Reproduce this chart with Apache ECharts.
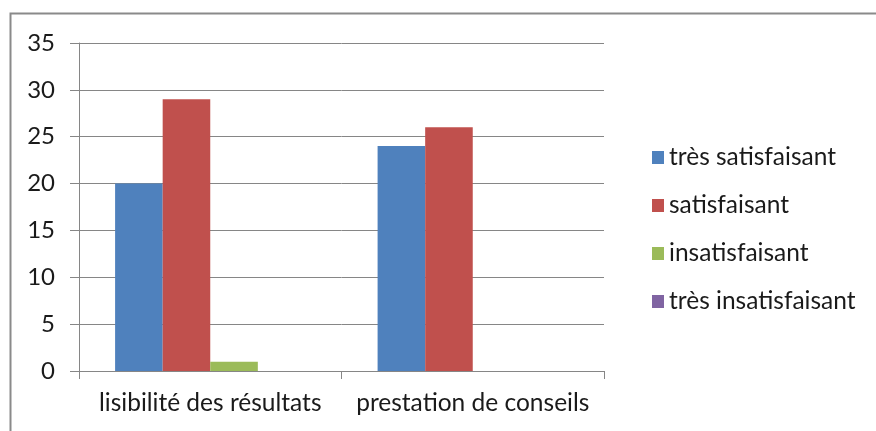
<!DOCTYPE html>
<html>
<head>
<meta charset="utf-8">
<script src="https://cdn.jsdelivr.net/npm/echarts@6/dist/echarts.min.js"></script>
<style>
html,body{margin:0;padding:0;background:#fff;}
#c{width:876px;height:431px;}
</style>
</head>
<body>
<div id="c"></div>
<script>
const categories = ["lisibilité des résultats", "prestation de conseils"];
const seriesNames = ["très satisfaisant", "satisfaisant", "insatisfaisant", "très insatisfaisant"];
const tresSatisfaisant = [20, 24];
const satisfaisant = [29, 26];
const insatisfaisant = [1, 0];
const tresInsatisfaisant = [0, 0];
const colors = ["#4F81BD", "#C0504D", "#9BBB59", "#8064A2"];
const FONT = "Lato";

const chart = echarts.init(document.getElementById('c'), null, {renderer: 'canvas'});
const allValues = [tresSatisfaisant, satisfaisant, insatisfaisant, tresInsatisfaisant];
chart.setOption({
  animation: false,
  backgroundColor: '#fff',
  graphic: [{
    type: 'rect', silent: true, z: -1,
    shape: {x: 10.5, y: 13.5, width: 1000, height: 1000},
    style: {fill: 'none', stroke: '#8a8a8a', lineWidth: 2}
  }],
  grid: {left: 79, right: 272, top: 43, bottom: 60, containLabel: false},
  legend: {
    orient: 'vertical',
    left: 647, top: 140,
    itemWidth: 12, itemHeight: 13,
    itemGap: 23,
    icon: 'rect',
    textStyle: {fontFamily: FONT, fontSize: 24.5, color: '#1a1a1a', lineHeight: 25},
    data: seriesNames
  },
  xAxis: {
    type: 'category',
    data: categories,
    axisLine: {lineStyle: {color: '#868686', width: 1}},
    axisTick: {show: true, length: 8, alignWithLabel: false, interval: 0, lineStyle: {color: '#868686'}},
    axisLabel: {fontFamily: FONT, fontSize: 24.5, color: '#1a1a1a', margin: 20, lineHeight: 25, interval: 0, hideOverlap: false}
  },
  yAxis: {
    type: 'value', min: 0, max: 35, interval: 5,
    axisLine: {show: true, lineStyle: {color: '#868686'}},
    axisTick: {show: true, length: 9, lineStyle: {color: '#868686'}},
    axisLabel: {fontFamily: FONT, fontSize: 24, color: '#1a1a1a', margin: 24},
    splitLine: {lineStyle: {color: '#868686', width: 1}}
  },
  series: seriesNames.map((n, i) => ({
    name: n, type: 'bar', data: allValues[i],
    barGap: '0%', barCategoryGap: '27.5%',
    itemStyle: {color: colors[i]}
  }))
});
</script>
</body>
</html>
